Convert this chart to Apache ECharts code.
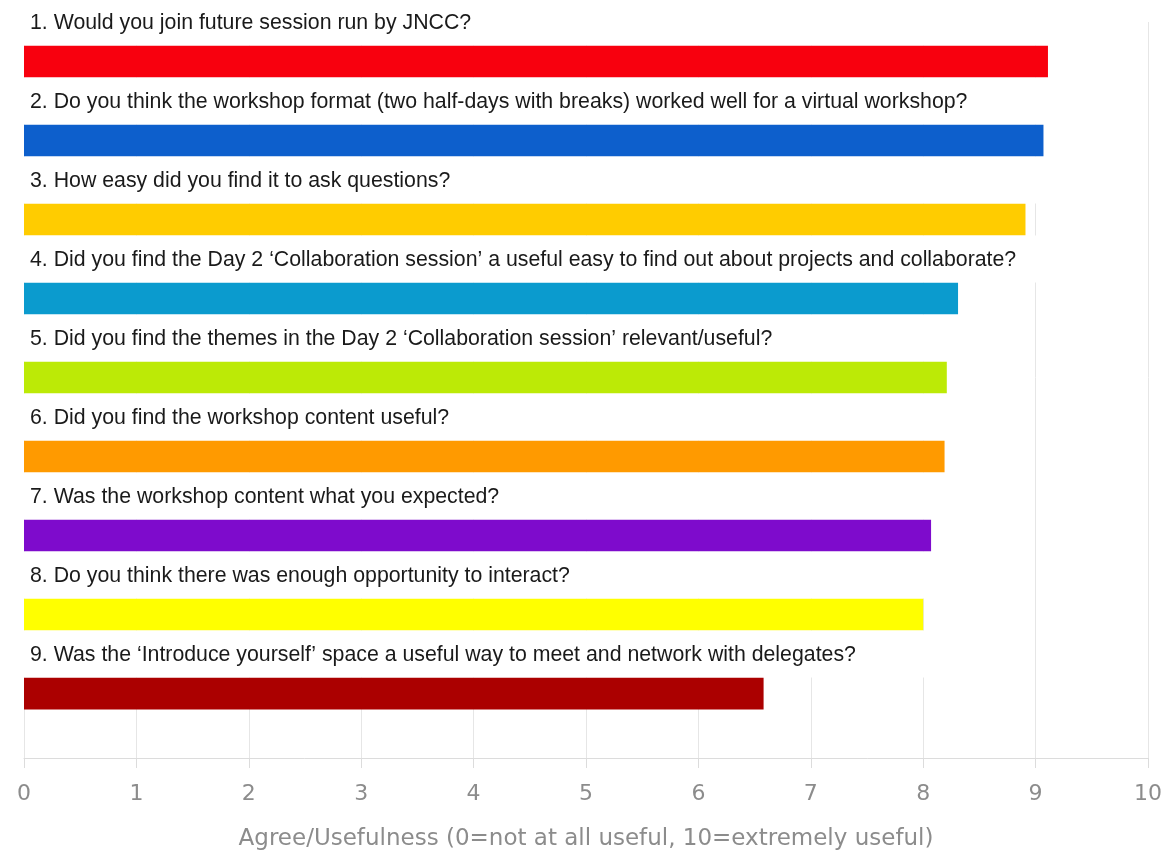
<!DOCTYPE html>
<html><head><meta charset="utf-8">
<script src="https://cdn.jsdelivr.net/npm/echarts@6/dist/echarts.min.js"></script>
<style>html,body{margin:0;padding:0;background:#fff}#c{width:1165px;height:852px}</style>
</head><body><div id="c"></div>
<script>
// ---- data ----
const questions = [
  '1. Would you join future session run by JNCC?',
  '2. Do you think the workshop format (two half-days with breaks) worked well for a virtual workshop?',
  '3. How easy did you find it to ask questions?',
  '4. Did you find the Day 2 \u2018Collaboration session\u2019 a useful easy to find out about projects and collaborate?',
  '5. Did you find the themes in the Day 2 \u2018Collaboration session\u2019 relevant/useful?',
  '6. Did you find the workshop content useful?',
  '7. Was the workshop content what you expected?',
  '8. Do you think there was enough opportunity to interact?',
  '9. Was the \u2018Introduce yourself\u2019 space a useful way to meet and network with delegates?'
];
const scores = [9.11, 9.07, 8.91, 8.31, 8.21, 8.19, 8.07, 8.00, 6.58];
const axisTitle = 'Agree/Usefulness (0=not at all useful, 10=extremely useful)';

// ---- styles ----
const barColors = ['#f8000e', '#0d5fcc', '#ffcc00', '#0b9bce', '#bcea06', '#ff9a00', '#7e0bcc', '#ffff00', '#ab0000'];
const labelBoxWidths = [1060, 1060, 1060, 1060, 950, 950, 950, 950, 950];
const gridColor = '#e6e6e6';
const axisTextColor = '#8c8c8c';

const chart = echarts.init(document.getElementById('c'), null, {renderer: 'canvas'});

const barData = scores.map((v, i) => ({
  value: v,
  itemStyle: {color: barColors[i]},
  label: {
    show: true,
    position: [0, -47],
    formatter: '{b}',
    width: labelBoxWidths[i],
    height: 44,
    lineHeight: 44,
    padding: [3, 0, 0, 6],
    overflow: 'none',
    backgroundColor: '#ffffff',
    color: '#1a1a1a',
    fontFamily: 'Liberation Sans',
    fontSize: 21.3,
    align: 'left',
    verticalAlign: 'top'
  }
}));

chart.setOption({
  animation: false,
  backgroundColor: '#ffffff',
  grid: [
    {left: 24, right: 17, top: 22, height: 711},
    {left: 24, right: 17, top: 733, height: 26}
  ],
  xAxis: [
    {
      gridIndex: 0, type: 'value', min: 0, max: 10, interval: 1,
      axisLine: {show: false}, axisTick: {show: false}, axisLabel: {show: false},
      splitLine: {show: true, lineStyle: {color: gridColor, width: 1}}
    },
    {
      gridIndex: 1, type: 'value', min: 0, max: 10, interval: 1,
      axisLine: {show: true, lineStyle: {color: '#dcdcdc', width: 1}},
      axisTick: {show: true, length: 10, lineStyle: {color: '#dcdcdc'}},
      axisLabel: {color: axisTextColor, fontSize: 22, fontFamily: 'DejaVu Sans', margin: 25},
      splitLine: {show: true, lineStyle: {color: gridColor, width: 1}},
      name: axisTitle,
      nameLocation: 'middle',
      nameGap: 70,
      nameTextStyle: {color: axisTextColor, fontSize: 23, fontFamily: 'DejaVu Sans'}
    }
  ],
  yAxis: [
    {
      gridIndex: 0, type: 'category', inverse: true, data: questions,
      axisLine: {show: false}, axisTick: {show: false}, axisLabel: {show: false},
      splitLine: {show: false}
    },
    {gridIndex: 1, type: 'value', show: false}
  ],
  series: [{
    type: 'bar',
    xAxisIndex: 0, yAxisIndex: 0,
    barWidth: 32,
    data: barData
  }]
});
</script></body></html>
